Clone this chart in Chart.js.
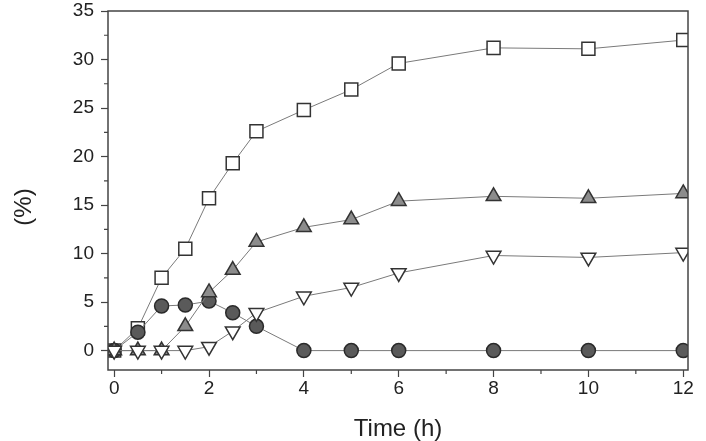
<!DOCTYPE html>
<html>
<head>
<meta charset="utf-8">
<script src="https://cdn.jsdelivr.net/npm/chart.js@4/dist/chart.umd.min.js"></script>
<style>
  html, body { margin: 0; padding: 0; background: #fff; }
  #wrap { width: 706px; height: 441px; }
</style>
</head>
<body>
<div id="wrap"><canvas id="chart" width="706" height="441"></canvas></div>
<script>
// sampling times (h)
const times = [0, 0.5, 1, 1.5, 2, 2.5, 3, 4, 5, 6, 8, 10, 12];

// series (%)
const squares   = [0, 2.3, 7.5, 10.5, 15.7, 19.3, 22.6, 24.8, 26.9, 29.6, 31.2, 31.1, 32.0];
const triUp     = [0, 0, 0, 2.5, 6.0, 8.3, 11.2, 12.7, 13.5, 15.4, 15.9, 15.7, 16.2];
const triDown   = [0, 0, 0, 0, 0.4, 2.0, 3.9, 5.6, 6.5, 8.0, 9.8, 9.6, 10.1];
const circles   = [0, 1.9, 4.6, 4.7, 5.1, 3.9, 2.5, 0, 0, 0, 0, 0, 0];

// axis ticks
const xTicks = [0, 1, 2, 3, 4, 5, 6, 7, 8, 9, 10, 11, 12];
const xLabels = [0, 2, 4, 6, 8, 10, 12];
const yTicks = [0, 2.5, 5, 7.5, 10, 12.5, 15, 17.5, 20, 22.5, 25, 27.5, 30, 32.5, 35];
const yLabels = [0, 5, 10, 15, 20, 25, 30, 35];
const yTitle = "(%)";

const FONT = "'Liberation Sans', Arial, sans-serif";
const LINE = "#7a7a7a";

function series(values) {
  return values.map((v, i) => ({ x: times[i], y: v }));
}

// frame round the plot area, short minor ticks, y title
const framePlugin = {
  id: "frame",
  afterDraw(chart) {
    const { ctx, chartArea: a, scales } = chart;
    ctx.save();
    ctx.strokeStyle = "#444";
    ctx.lineWidth = 1.5;
    ctx.strokeRect(a.left, a.top, a.right - a.left, a.bottom - a.top);

    ctx.lineWidth = 1.2;
    ctx.beginPath();
    xTicks.filter(v => !xLabels.includes(v)).forEach(v => {
      const px = scales.x.getPixelForValue(v);
      ctx.moveTo(px, a.bottom);
      ctx.lineTo(px, a.bottom + 4);
    });
    yTicks.filter(v => !yLabels.includes(v)).forEach(v => {
      const py = scales.y.getPixelForValue(v);
      ctx.moveTo(a.left, py);
      ctx.lineTo(a.left - 4, py);
    });
    ctx.stroke();

    // the y title sits a bit below the middle of the axis in the original
    ctx.translate(24, scales.y.getPixelForValue(14.8));
    ctx.rotate(-Math.PI / 2);
    ctx.fillStyle = "#222";
    ctx.font = "24px " + FONT;
    ctx.textAlign = "center";
    ctx.textBaseline = "middle";
    ctx.fillText(yTitle, 0, 0);
    ctx.restore();
  }
};

new Chart(document.getElementById("chart"), {
  type: "line",
  data: {
    datasets: [
      {
        data: series(triDown),
        borderColor: LINE,
        borderWidth: 1,
        pointStyle: "triangle",
        pointRotation: 180,
        pointRadius: 8.5,
        pointBackgroundColor: "#fff",
        pointBorderColor: "#333",
        pointBorderWidth: 1.5,
      },
      {
        data: series(triUp),
        borderColor: LINE,
        borderWidth: 1,
        pointStyle: "triangle",
        pointRadius: 8.5,
        pointBackgroundColor: "#8c8c8c",
        pointBorderColor: "#333",
        pointBorderWidth: 1.5,
      },
      {
        data: series(circles),
        borderColor: LINE,
        borderWidth: 1,
        pointStyle: "circle",
        pointRadius: 7,
        pointBackgroundColor: "#5a5a5a",
        pointBorderColor: "#2a2a2a",
        pointBorderWidth: 1.5,
      },
      {
        data: series(squares),
        borderColor: LINE,
        borderWidth: 1,
        pointStyle: "rect",
        pointRadius: 9.2,
        pointBackgroundColor: "#fff",
        pointBorderColor: "#333",
        pointBorderWidth: 1.5,
      },
    ],
  },
  options: {
    responsive: false,
    animation: false,
    layout: { padding: { top: 11, right: 18, left: 0, bottom: 0 } },
    plugins: { legend: { display: false }, tooltip: { enabled: false } },
    elements: { line: { tension: 0 } },
    scales: {
      x: {
        type: "linear",
        min: -0.13,
        max: 12.1,
        afterBuildTicks: s => { s.ticks = xLabels.map(v => ({ value: v })); },
        afterFit: s => { s.height = 71; s.paddingLeft = 0; s.paddingRight = 0; },
        border: { display: false },
        grid: { drawOnChartArea: false, tickLength: 7, tickColor: "#444", tickWidth: 1.2 },
        ticks: {
          padding: 0,
          color: "#222",
          font: { family: FONT, size: 19 },
          maxRotation: 0,
        },
        title: {
          display: true,
          text: "Time (h)",
          color: "#222",
          font: { family: FONT, size: 24, lineHeight: 1 },
          padding: { top: 0, bottom: 0 },
        },
      },
      y: {
        type: "linear",
        min: -2,
        max: 35,
        afterBuildTicks: s => { s.ticks = yLabels.map(v => ({ value: v })); },
        afterFit: s => { s.width = 108; s.paddingTop = 0; s.paddingBottom = 0; },
        border: { display: false },
        grid: { drawOnChartArea: false, tickLength: 7, tickColor: "#444", tickWidth: 1.2 },
        ticks: {
          padding: 7,
          color: "#222",
          font: { family: FONT, size: 19 },
        },
      },
    },
  },
  plugins: [framePlugin],
});
</script>
</body>
</html>
